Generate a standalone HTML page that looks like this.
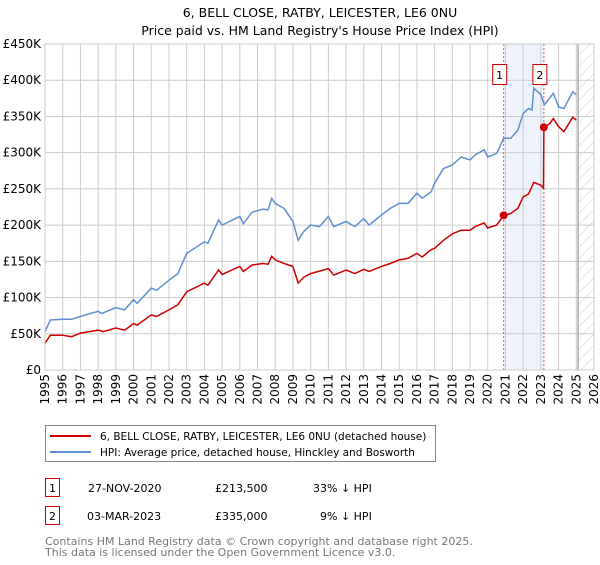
<!DOCTYPE html>
<html><head><meta charset="utf-8"><style>
body{margin:0;background:#fff;font-family:"Liberation Sans","DejaVu Sans",sans-serif;}
svg text{font-family:"DejaVu Sans","Liberation Sans",sans-serif;}
</style></head><body>
<svg id="chart" width="600" height="560" xmlns="http://www.w3.org/2000/svg">
<defs><pattern id="hatch" width="8" height="8" patternUnits="userSpaceOnUse" patternTransform="rotate(45)"><line x1="0" y1="0" x2="0" y2="8" stroke="#ccc" stroke-width="1"/></pattern></defs>
<text x="320" y="17" text-anchor="middle" font-size="12.5">6, BELL CLOSE, RATBY, LEICESTER, LE6 0NU</text>
<text x="320" y="35" text-anchor="middle" font-size="12.5">Price paid vs. HM Land Registry's House Price Index (HPI)</text>
<g id="grid"></g><g id="marks"></g><g id="axes"></g>
<rect x="45.5" y="425.5" width="390" height="36" fill="#fff" stroke="#888"/>
<line x1="50" y1="436" x2="91" y2="436" stroke="#cc0000" stroke-width="2"/>
<text x="100" y="440" font-size="10.5">6, BELL CLOSE, RATBY, LEICESTER, LE6 0NU (detached house)</text>
<line x1="50" y1="452" x2="91" y2="452" stroke="#5f8fd0" stroke-width="2"/>
<text x="100" y="456" font-size="10.5">HPI: Average price, detached house, Hinckley and Bosworth</text>
<g font-size="11">
<rect x="45.5" y="478.5" width="14" height="18" fill="#fff" stroke="#cc0000"/><text x="52.5" y="492" text-anchor="middle">1</text>
<text x="88" y="492">27-NOV-2020</text><text x="215" y="492">£213,500</text><text x="313" y="492">33% ↓ HPI</text></g>
<g font-size="11">
<rect x="45.5" y="506.5" width="14" height="18" fill="#fff" stroke="#cc0000"/><text x="52.5" y="520" text-anchor="middle">2</text>
<text x="87" y="520">03-MAR-2023</text><text x="215" y="520">£335,000</text><text x="320" y="520">9% ↓ HPI</text></g>
<text x="45" y="545" font-size="11" fill="#777">Contains HM Land Registry data © Crown copyright and database right 2025.</text>
<text x="45" y="556" font-size="11" fill="#777">This data is licensed under the Open Government Licence v3.0.</text>
</svg>
<script>
const yTicks=[0,50,100,150,200,250,300,350,400,450];
const yTickLabels=["£0","£50K","£100K","£150K","£200K","£250K","£300K","£350K","£400K","£450K"];
const xYears=[1995,1996,1997,1998,1999,2000,2001,2002,2003,2004,2005,2006,2007,2008,2009,2010,2011,2012,2013,2014,2015,2016,2017,2018,2019,2020,2021,2022,2023,2024,2025,2026];
const hpiT=[1995,1995.3,1996,1996.5,1997,1998,1998.2,1999,1999.5,2000,2000.2,2001,2001.3,2002,2002.5,2003,2004,2004.2,2004.8,2005,2006,2006.2,2006.7,2007.3,2007.6,2007.8,2008,2008.5,2009,2009.3,2009.6,2010,2010.5,2011,2011.3,2012,2012.5,2013,2013.3,2014,2014.5,2015,2015.5,2016,2016.3,2016.8,2017,2017.5,2018,2018.5,2019,2019.3,2019.8,2020,2020.5,2020.9,2021.3,2021.7,2022,2022.3,2022.5,2022.6,2023,2023.2,2023.7,2024,2024.3,2024.8,2025];
const hpiV=[53,69,70,70,74,81,78,86,83,97,92,113,110,124,133,161,177,175,207,200,212,202,218,222,221,237,230,223,205,179,191,200,198,212,198,205,198,209,200,214,223,230,230,244,237,246,258,278,283,294,290,297,304,294,299,320,320,331,354,361,359,389,380,366,382,363,361,384,380];
const priceT=[1995,1995.3,1996,1996.5,1997,1998,1998.3,1999,1999.5,2000,2000.2,2001,2001.3,2002,2002.5,2003,2004,2004.2,2004.8,2005,2006,2006.2,2006.7,2007.3,2007.6,2007.8,2008,2008.5,2009,2009.3,2009.6,2010,2011,2011.3,2012,2012.5,2013,2013.3,2014,2014.5,2015,2015.5,2016,2016.3,2016.8,2017,2017.5,2018,2018.5,2019,2019.3,2019.8,2020,2020.5,2020.9,2021.3,2021.7,2022,2022.3,2022.6,2023,2023.15,2023.17,2023.5,2023.7,2024,2024.3,2024.8,2025];
const priceV=[37,48,48,46,51,55,53,58,55,64,62,76,74,83,90,108,120,117,138,132,143,136,145,147,146,157,152,147,143,120,128,133,140,131,138,133,139,136,143,147,152,154,161,156,166,168,179,188,193,193,198,203,196,200,213,216,223,239,243,259,255,251,335,340,347,336,329,349,345];
const saleT=[2020.9,2023.17];
const saleV=[213.5,335];
const saleLabels=["1","2"];
const X0=45,X1=594,Y0=370,Y1=44;
const xs=t=>X0+(t-1995)/(2026-1995)*(X1-X0);
const ys=v=>Y0-v/450*(Y0-Y1);
const NS="http://www.w3.org/2000/svg";
function mk(tag,attrs,parent){const e=document.createElementNS(NS,tag);for(const k in attrs)e.setAttribute(k,attrs[k]);parent.appendChild(e);return e;}
const grid=document.getElementById('grid'),marks=document.getElementById('marks'),axes=document.getElementById('axes');
const shade=mk('rect',{x:xs(saleT[0]),y:Y1,width:xs(saleT[1])-xs(saleT[0]),height:Y0-Y1,fill:'#eef3fb'},grid);


const hatch=mk('rect',{x:xs(2025.1),y:Y1,width:X1-xs(2025.1),height:Y0-Y1,fill:'url(#hatch)'},grid);


yTicks.forEach((v,i)=>{
 const l=mk('line',{x1:X0,x2:X1,y1:ys(v),y2:ys(v),stroke:'#ccc'},grid);
 
 
 const t=mk('text',{x:X0-4,y:ys(v)+4,'text-anchor':'end','font-size':'12'},axes);
 
 
 t.textContent=yTickLabels[i];
});
xYears.forEach(yr=>{
 const l=mk('line',{x1:xs(yr),x2:xs(yr),y1:Y1,y2:Y0,stroke:'#ccc'},grid);
 
 
 const t=mk('text',{x:0,y:0,transform:`translate(${xs(yr)+4},${Y0+4}) rotate(-90)`,'text-anchor':'end','font-size':'12'},axes);
 
 
 t.textContent=yr;
});
const nowLine=mk('line',{x1:xs(2025.1),x2:xs(2025.1),y1:Y1,y2:Y0,stroke:'#999','stroke-width':1.2},grid);


saleT.forEach((t,i)=>{
 const l=mk('line',{x1:xs(t),x2:xs(t),y1:Y1,y2:Y0,stroke:'#e05050','stroke-dasharray':'2,2'},grid);
 
 
 const g=mk('g',{},marks);
 
 
 mk('rect',{x:xs(t)-11,y:64.5,width:14,height:20,fill:'#fff',stroke:'#cc0000'},g);
 const tx=mk('text',{x:xs(t)-4,y:79,'text-anchor':'middle','font-size':'11'},g);
 tx.textContent=saleLabels[i];
});
function line(T,V,color,name){
 const p=mk('path',{d:T.map((t,i)=>(i?'L':'M')+xs(t).toFixed(1)+','+ys(V[i]).toFixed(1)).join(''),fill:'none',stroke:color,'stroke-width':1.5},marks);
 
 
}
line(hpiT,hpiV,'#5f8fd0','hpi-line');
line(priceT,priceV,'#cc0000','price-line');
saleT.forEach((t,i)=>{
 const c=mk('circle',{cx:xs(t),cy:ys(saleV[i]),r:4,fill:'#cc0000'},marks);
 
 
});
const frame=mk('rect',{x:X0,y:Y1,width:X1-X0,height:Y0-Y1,fill:'none',stroke:'#ccc'},axes);


</script>
</body></html>
